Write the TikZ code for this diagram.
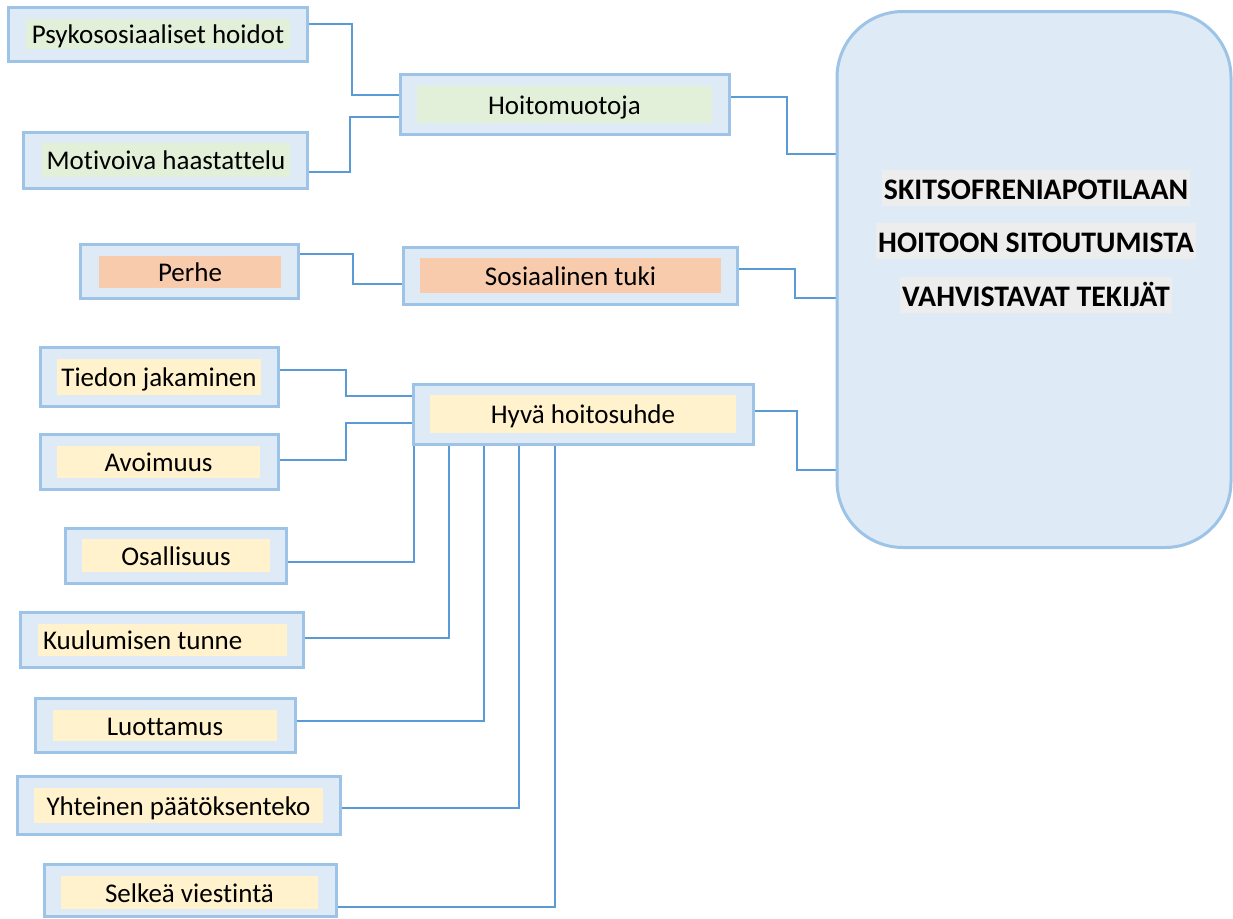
\documentclass[tikz,border=0pt]{standalone}
\usepackage{fontspec}
\setmainfont{Carlito}[Ligatures=NoCommon]
\usetikzlibrary{backgrounds}
\definecolor{boxfill}{HTML}{DEEBF7}
\definecolor{boxline}{HTML}{9DC3E6}
\definecolor{linkline}{HTML}{5B9BD5}
\definecolor{vihrea}{HTML}{E2EFD9}
\definecolor{oranssi}{HTML}{F8CBAD}
\definecolor{keltainen}{HTML}{FFF2CC}
\definecolor{korostus}{HTML}{EDEDED}

\begin{document}
\begin{tikzpicture}[x=1pt,y=-1pt,
    outer/.style={draw=boxline,fill=boxfill,line width=3pt,inner sep=0pt,outer sep=0pt},
    inner/.style={inner sep=0pt,outer sep=0pt,text height=19.5pt,text depth=0pt,font=\fontsize{27}{32}\selectfont},
    link/.style={draw=linkline,line width=1.3pt},
    title/.style={fill=korostus,inner xsep=2pt,inner ysep=6.5pt,text height=23.5pt,text depth=0pt,font=\fontsize{29.8}{36}\selectfont\bfseries}]
  \useasboundingbox (0,0) rectangle (1233,918);

  \node[outer,minimum width=299pt,minimum height=54pt] (psyk) at (157.5,34) {};
  \node[inner,fill=vihrea,minimum width=264pt,minimum height=30pt] (psyk-t) at (158,34) {Psykososiaaliset hoidot};
  \node[outer,minimum width=284pt,minimum height=56pt] (moti) at (165,160) {};
  \node[inner,fill=vihrea,minimum width=248pt,minimum height=34pt] (moti-t) at (166,160) {Motivoiva haastattelu};
  \node[outer,minimum width=329pt,minimum height=60pt] (hoito) at (564.5,104) {};
  \node[inner,fill=vihrea,minimum width=295pt,minimum height=37pt] (hoito-t) at (564.5,104.5) {Hoitomuotoja};

  \node[outer,minimum width=218pt,minimum height=54pt] (perhe) at (189,271) {};
  \node[inner,fill=oranssi,minimum width=182pt,minimum height=32pt] (perhe-t) at (190,272) {Perhe};
  \node[outer,minimum width=334pt,minimum height=57pt] (sos) at (570,275.5) {};
  \node[inner,fill=oranssi,minimum width=301pt,minimum height=35pt] (sos-t) at (570.5,275.5) {Sosiaalinen tuki};

  \node[outer,minimum width=238pt,minimum height=59pt] (tied) at (159,376.5) {};
  \node[inner,fill=keltainen,minimum width=204pt,minimum height=36pt] (tied-t) at (159,377) {Tiedon jakaminen};
  \node[outer,minimum width=238pt,minimum height=55pt] (avoi) at (159,461.5) {};
  \node[inner,fill=keltainen,minimum width=203pt,minimum height=32pt] (avoi-t) at (158.5,462) {Avoimuus};
  \node[outer,minimum width=340pt,minimum height=60pt] (hyva) at (583,414) {};
  \node[inner,fill=keltainen,minimum width=306pt,minimum height=38pt] (hyva-t) at (583,414) {Hyvä hoitosuhde};

  \node[outer,minimum width=221pt,minimum height=55pt] (osal) at (175.5,555.5) {};
  \node[inner,fill=keltainen,minimum width=188pt,minimum height=33pt] (osal-t) at (176,555.5) {Osallisuus};
  \node[outer,minimum width=283pt,minimum height=55pt] (kuul) at (161.5,639.5) {};
  \node[inner,fill=keltainen,minimum width=249pt,minimum height=32pt,inner xsep=5pt,text width=239pt,align=flush left] (kuul-t) at (162.5,640) {Kuulumisen tunne};
  \node[outer,minimum width=260pt,minimum height=54pt] (luot) at (165,725) {};
  \node[inner,fill=keltainen,minimum width=224pt,minimum height=31pt] (luot-t) at (165,725.5) {Luottamus};
  \node[outer,minimum width=323pt,minimum height=58pt] (yhte) at (178.5,805) {};
  \node[inner,fill=keltainen,minimum width=289pt,minimum height=35pt] (yhte-t) at (178.5,805.5) {Yhteinen päätöksenteko};
  \node[outer,minimum width=292pt,minimum height=52pt] (selk) at (190,890) {};
  \node[inner,fill=keltainen,minimum width=257pt,minimum height=33pt] (selk-t) at (189.5,892.5) {Selkeä viestintä};

  \node[outer,rounded corners=66pt,minimum width=394pt,minimum height=536pt] (iso) at (1034,279.5) {};
  \node[title] (otsikko1) at (1036,188) {SKITSOFRENIAPOTILAAN};
  \node[title] (otsikko2) at (1036,241) {HOITOON SITOUTUMISTA};
  \node[title] (otsikko3) at (1036,295) {VAHVISTAVAT TEKIJÄT};

  \begin{scope}[on background layer]
    \draw[link] ([yshift=10pt]psyk.east) -- ++(45,0) |- ([yshift=9pt]hoito.west);
    \draw[link] ([yshift=-12pt]moti.east) -- ++(43,0) |- ([yshift=-13pt]hoito.west);
    \draw[link] ([yshift=7pt]hoito.east) -- ++(58,0) |- ([yshift=125.5pt]iso.west);
    \draw[link] ([yshift=17pt]perhe.east) -- ++(55,0) |- ([yshift=-8.5pt]sos.west);
    \draw[link] ([yshift=6.5pt]sos.east) -- ++(58,0) |- ([yshift=-18.5pt]iso.west);
    \draw[link] ([yshift=6.5pt]tied.east) -- ++(68,0) |- ([yshift=18pt]hyva.west);
    \draw[link] ([yshift=1.5pt]avoi.east) -- ++(68,0) |- ([yshift=-9pt]hyva.west);
    \draw[link] ([yshift=3pt]hyva.east) -- ++(44,0) |- ([yshift=-190.5pt]iso.west);
    \draw[link] ([yshift=-6.5pt]osal.east) -| ([xshift=1pt]hyva.south west);
    \draw[link] ([yshift=1.5pt]kuul.east) -| ([xshift=36pt]hyva.south west);
    \draw[link] ([yshift=4pt]luot.east) -| ([xshift=71pt]hyva.south west);
    \draw[link] ([yshift=-3pt]yhte.east) -| ([xshift=106pt]hyva.south west);
    \draw[link] ([yshift=-17pt]selk.east) -| ([xshift=142pt]hyva.south west);
  \end{scope}
\end{tikzpicture}
\end{document}
